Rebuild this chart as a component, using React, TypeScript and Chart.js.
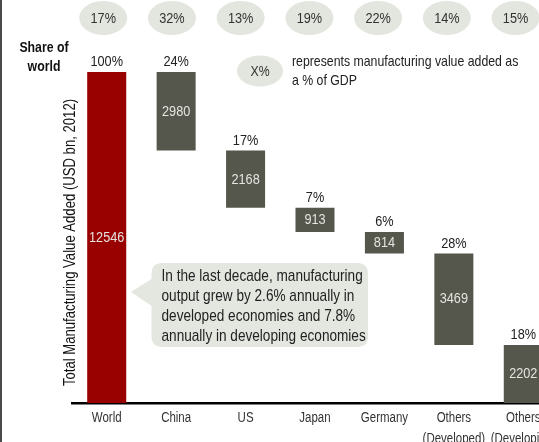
import React, { useEffect, useRef } from "react";
import { Chart, registerables } from "chart.js";

Chart.register(...registerables);

const categories: string[][] = [
  ["World"],
  ["China"],
  ["US"],
  ["Japan"],
  ["Germany"],
  ["Others", "(Developed)"],
  ["Others", "(Developing)"],
];
const values = [12546, 2980, 2168, 913, 814, 3469, 2202];
const shareOfWorld = ["100%", "24%", "17%", "7%", "6%", "28%", "18%"];
const gdpShare = ["17%", "32%", "13%", "19%", "22%", "14%", "15%"];
const calloutLines = [
  "In the last decade, manufacturing",
  "output grew by 2.6% annually in",
  "developed economies and 7.8%",
  "annually in developing economies",
];
const yTitle = "Total Manufacturing Value Added (USD bn, 2012)";
const legendText = ["represents manufacturing value added as", "a % of GDP"];

const FONT = "'Liberation Sans', Arial, sans-serif";
const NARROW = 0.82;
const RED = "#990000";
const GREY = "#55574d";
const PALE = "#e3e6de";

function buildRanges(vals: number[]): [number, number][] {
  const out: [number, number][] = [];
  let top = vals[0];
  out.push([0, vals[0]]);
  for (let i = 1; i < vals.length; i++) {
    out.push([top - vals[i], top]);
    top -= vals[i];
  }
  return out;
}

function narrowText(
  ctx: CanvasRenderingContext2D,
  text: string,
  x: number,
  y: number,
  size: number,
  color: string,
  align: CanvasTextAlign = "center",
  baseline: CanvasTextBaseline = "middle",
  weight = "normal",
  rotate = 0
) {
  ctx.save();
  ctx.translate(x, y);
  if (rotate) ctx.rotate(rotate);
  ctx.scale(NARROW, 1);
  ctx.font = `${weight} ${size}px ${FONT}`;
  ctx.fillStyle = color;
  ctx.textAlign = align;
  ctx.textBaseline = baseline;
  ctx.fillText(text, 0, 0);
  ctx.restore();
}

const annotationPlugin = {
  id: "annotations",
  afterDraw(chart: any) {
    const ctx = chart.ctx as CanvasRenderingContext2D;
    const meta = chart.getDatasetMeta(0);
    const xScale = chart.scales.x;
    ctx.save();
    // left frame line
    ctx.fillStyle = "#4a4a4a";
    ctx.fillRect(0, 0, 2, chart.height);

    meta.data.forEach((bar: any, i: number) => {
      const { x, y, base } = bar.getProps(["x", "y", "base"], true);
      const top = Math.min(y, base);
      const bottom = Math.max(y, base);
      narrowText(ctx, String(values[i]), x, (top + bottom) / 2, 15.5, "#e4e4e0");
      narrowText(ctx, shareOfWorld[i], x, top - 10, 15.5, "#222");
      const ex = x - 3.5 - 0.7 * i;
      ctx.fillStyle = PALE;
      ctx.beginPath();
      ctx.ellipse(ex, 18, 24, 17, 0, 0, Math.PI * 2);
      ctx.fill();
      narrowText(ctx, gdpShare[i], ex, 19, 15.5, "#333");
    });

    // category labels
    categories.forEach((lines, i) => {
      const px = xScale.getPixelForValue(i);
      lines.forEach((line, j) => {
        narrowText(ctx, line, px, xScale.top + 15 + j * 21, 14, "#333");
      });
    });

    // "Share of world"
    narrowText(ctx, "Share of", 44, 48, 15, "#111", "center", "middle", "bold");
    narrowText(ctx, "world", 44, 67, 15, "#111", "center", "middle", "bold");

    // legend ellipse
    ctx.fillStyle = PALE;
    ctx.beginPath();
    ctx.ellipse(260, 71, 23, 15.5, 0, 0, Math.PI * 2);
    ctx.fill();
    narrowText(ctx, "X%", 260, 72, 15, "#333");
    narrowText(ctx, legendText[0], 292, 62, 15, "#222", "left");
    narrowText(ctx, legendText[1], 292, 81, 15, "#222", "left");

    // y-axis title
    narrowText(ctx, yTitle, 70.5, 242.5, 16, "#111", "center", "middle", "normal", -Math.PI / 2);

    // callout
    const L = 151.5, R = 368, T = 263, B = 347, r = 11;
    ctx.fillStyle = "#e4e7e0";
    ctx.beginPath();
    ctx.moveTo(L + r, T);
    ctx.lineTo(R - r, T);
    ctx.quadraticCurveTo(R, T, R, T + r);
    ctx.lineTo(R, B - r);
    ctx.quadraticCurveTo(R, B, R - r, B);
    ctx.lineTo(L + r, B);
    ctx.quadraticCurveTo(L, B, L, B - r);
    ctx.lineTo(L, 306);
    ctx.lineTo(131, 292);
    ctx.lineTo(L, 279);
    ctx.lineTo(L, T + r);
    ctx.quadraticCurveTo(L, T, L + r, T);
    ctx.closePath();
    ctx.fill();
    calloutLines.forEach((line, i) =>
      narrowText(ctx, line, 161.5, 280.5 + 20 * i, 16.6, "#222", "left", "alphabetic")
    );
    ctx.restore();
  },
};

export default function App() {
  const ref = useRef<HTMLCanvasElement>(null);
  useEffect(() => {
    if (!ref.current) return;
    const ranges = buildRanges(values);
    const chart = new Chart(ref.current, {
      type: "bar",
      data: {
        labels: categories.map((c) => c.join(" ")),
        datasets: [
          {
            data: ranges as any,
            backgroundColor: values.map((_, i) => (i === 0 ? RED : GREY)),
            borderWidth: 0,
            barPercentage: 0.562,
            categoryPercentage: 1,
          },
        ],
      },
      options: {
        responsive: false,
        animation: false,
        devicePixelRatio: 1,
        layout: { padding: { left: 72, right: 2, top: 72, bottom: 0 } },
        plugins: {
          legend: { display: false },
          tooltip: { enabled: false },
        },
        scales: {
          x: {
            grid: { display: false, drawTicks: false },
            border: { display: true, color: "#000", width: 2.5 },
            ticks: { display: false },
            afterFit: (scale: any) => {
              scale.height = 39;
            },
          },
          y: { display: false, min: 0, max: 12546 },
        },
      },
      plugins: [annotationPlugin],
    });
    return () => chart.destroy();
  }, []);
  return (
    <div
      style={{
        position: "absolute",
        left: 0,
        top: 0,
        width: 539,
        height: 442,
        overflow: "hidden",
        background: "#fff",
      }}
    >
      <canvas ref={ref} width={560} height={442} style={{ display: "block" }} />
    </div>
  );
}
